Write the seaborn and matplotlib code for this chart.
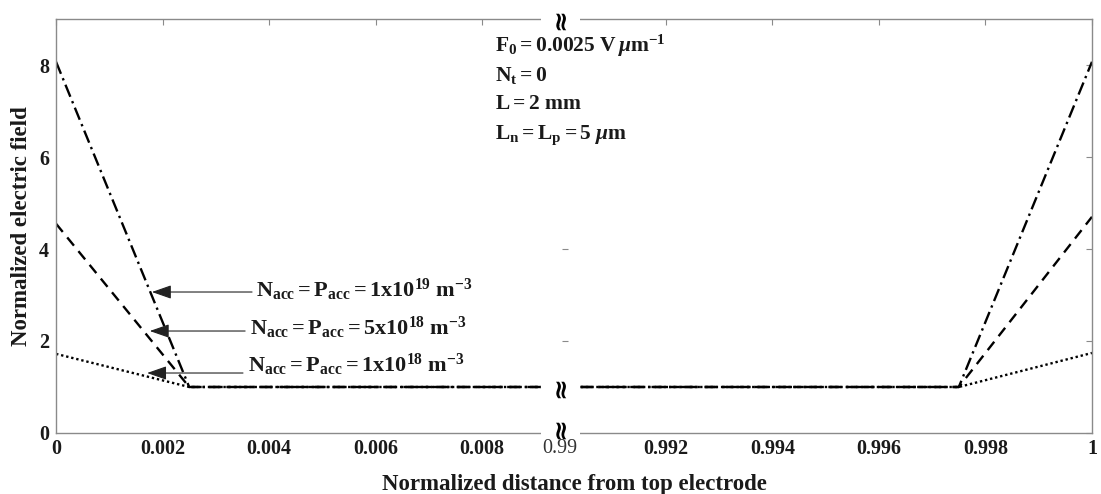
import numpy as np
import matplotlib
matplotlib.use("Agg")
import matplotlib.pyplot as plt
import matplotlib.transforms as mtransforms
from matplotlib.patches import Rectangle
import seaborn as sns

# Normalized position: region next to the top electrode and next to the bottom electrode
x_top = [0.0, 0.0025, 0.0091]
x_bottom = [0.9904, 0.9975, 1.0]

# Normalized electric field for the three accumulated charge densities
field_1e19_top = [8.07, 1.0, 1.0]
field_1e19_bottom = [1.0, 1.0, 8.07]
field_5e18_top = [4.55, 1.0, 1.0]
field_5e18_bottom = [1.0, 1.0, 4.7]
field_1e18_top = [1.72, 1.0, 1.0]
field_1e18_bottom = [1.0, 1.0, 1.74]

series_labels = [
    r"$N_{acc} = P_{acc} = 1x10^{19}\ m^{-3}$",
    r"$N_{acc} = P_{acc} = 5x10^{18}\ m^{-3}$",
    r"$N_{acc} = P_{acc} = 1x10^{18}\ m^{-3}$",
]

xtick_values = [0, 0.002, 0.004, 0.006, 0.008, 0.99, 0.992, 0.994, 0.996, 0.998, 1]
xtick_labels = ["0", "0.002", "0.004", "0.006", "0.008", "0.99",
                "0.992", "0.994", "0.996", "0.998", "1"]
ytick_values = [0, 2, 4, 6, 8]

parameter_lines = [
    r"$F_0 = 0.0025\ V\,\mathit{\mu} m^{-1}$",
    r"$N_t = 0$",
    r"$L = 2\ mm$",
    r"$L_n = L_p = 5\ \mathit{\mu} m$",
]

sns.set_theme(style="white")
plt.rcParams["font.family"] = ["Liberation Serif", "DejaVu Serif"]
plt.rcParams["font.weight"] = "bold"
plt.rcParams["mathtext.fontset"] = "custom"
plt.rcParams["mathtext.rm"] = "Liberation Serif:bold"
plt.rcParams["mathtext.bf"] = "Liberation Serif:bold"
plt.rcParams["mathtext.it"] = "Liberation Serif:italic"
plt.rcParams["mathtext.default"] = "bf"

SPINE_GREY = "#8a8a8a"
INK = "#1a1a1a"

# Broken x axis: a piecewise-linear scale that squeezes the empty middle of the device
SEG_END = 0.0092
SEG_JOIN = 0.00945


def squeeze(x):
    return np.interp(x, [0, SEG_END, 0.99, 1.0], [0, SEG_END, SEG_JOIN, SEG_JOIN + 0.01])


def unsqueeze(t):
    return np.interp(t, [0, SEG_END, SEG_JOIN, SEG_JOIN + 0.01], [0, SEG_END, 0.99, 1.0])


fig = plt.figure(figsize=(11.01, 4.94), dpi=100)
ax = fig.add_axes([0.0509, 0.1235, 0.9409, 0.8380])
ax.set_xscale("function", functions=(squeeze, unsqueeze))

styles = [
    (field_1e19_top, field_1e19_bottom, (0, (5.5, 2, 1, 2))),
    (field_5e18_top, field_5e18_bottom, (0, (4.5, 3))),
    (field_1e18_top, field_1e18_bottom, (0, (1, 1.2))),
]
for top_vals, bottom_vals, dash in styles:
    sns.lineplot(x=x_top, y=top_vals, ax=ax, color="black", linewidth=1.7,
                 linestyle=dash, sort=False)
    sns.lineplot(x=x_bottom, y=bottom_vals, ax=ax, color="black", linewidth=1.7,
                 linestyle=dash, sort=False)

ax.set_xlim(0, 1)
ax.set_ylim(0, 9)
ax.set_xticks(xtick_values)
ax.set_xticklabels(xtick_labels)
ax.set_yticks(ytick_values)
ax.minorticks_off()
ax.tick_params(direction="in", length=4, width=0.8, color=SPINE_GREY,
               top=True, right=True, labelsize=14.5, labelcolor=INK)
ax.tick_params(axis="x", pad=4)
ax.tick_params(axis="y", pad=5)
for lab in ax.get_xticklabels():
    lab.set_fontweight("bold")
ax.get_xticklabels()[5].set_fontweight("normal")
ax.get_xticklabels()[5].set_color("#333333")
for lab in ax.get_yticklabels():
    lab.set_fontweight("bold")
for s in ax.spines.values():
    s.set_color(SPINE_GREY)
    s.set_linewidth(1.0)

ax.set_xlabel("Normalized distance from top electrode", fontsize=16.5,
              fontweight="bold", color=INK, labelpad=11)
ax.set_ylabel("Normalized electric field", fontsize=16.5,
              fontweight="bold", color=INK, labelpad=5)

# stray ticks left by the second panel of the broken axis
sec = ax.secondary_yaxis(0.4913)
sec.set_yticks([2, 4])
sec.tick_params(direction="inout", length=5, width=0.8, color=SPINE_GREY,
                labelleft=False, labelright=False)
for s in sec.spines.values():
    s.set_visible(False)

# gap in the frame plus the break symbols
BREAK_X = 0.4865
xa_ya = ax.transAxes
xa_yd = mtransforms.blended_transform_factory(ax.transAxes, ax.transData)
for y0 in (-0.01, 0.985):
    ax.add_patch(Rectangle((0.468, y0), 0.038, 0.025, transform=xa_ya,
                           facecolor="white", edgecolor="none",
                           clip_on=False, zorder=6))
for y, tr in ((1.0, xa_ya), (0.012, xa_ya), (1.0, xa_yd)):
    ax.text(BREAK_X, y, "\u2248", transform=tr, rotation=90, ha="center",
            va="center", fontsize=19, fontweight="bold", color="black",
            family="DejaVu Sans", zorder=7, clip_on=False)

# arrows pointing from each label to its curve
arrow_heads = [(0.00180, 3.065), (0.00176, 2.217), (0.00171, 1.304)]
arrow_tails = [(0.00368, 3.065), (0.00355, 2.217), (0.00351, 1.304)]
label_pos = [(0.00375, 2.957), (0.00364, 2.13), (0.00360, 1.326)]
for head, tail, pos, text in zip(arrow_heads, arrow_tails, label_pos, series_labels):
    ax.annotate("", xy=head, xytext=tail,
                arrowprops=dict(arrowstyle="-|>,head_length=1.0,head_width=0.35",
                                color="#222222", lw=0.8, shrinkA=0, shrinkB=0))
    ax.text(pos[0], pos[1], text, fontsize=16, ha="left", va="baseline",
            color=INK)

param_y = [8.28, 7.66, 7.05, 6.40]
for y, text in zip(param_y, parameter_lines):
    ax.text(0.00824, y, text, fontsize=15.5, ha="left", va="baseline",
            color=INK)

fig.savefig("out.png", dpi=100)
